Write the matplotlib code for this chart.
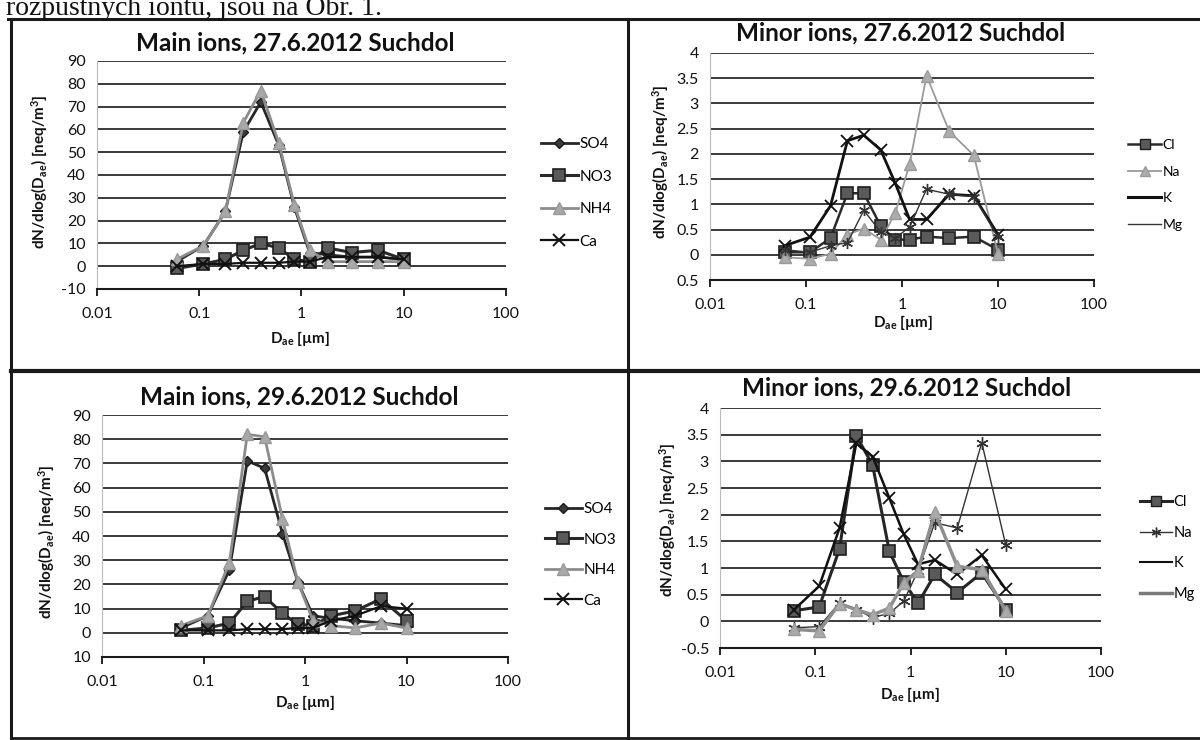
import numpy as np
import matplotlib
matplotlib.use("Agg")
import matplotlib.pyplot as plt
from matplotlib.lines import Line2D
from matplotlib.ticker import NullLocator

plt.rcParams['font.family'] = ['Lato', 'DejaVu Sans']
plt.rcParams['mathtext.fontset'] = 'custom'
plt.rcParams['mathtext.rm'] = 'Lato'
plt.rcParams['mathtext.bf'] = 'Lato:bold'
plt.rcParams['mathtext.it'] = 'Lato:italic'

# aerodynamic diameter of impactor stages [um]
d_ae = [0.06, 0.11, 0.18, 0.27, 0.4, 0.6, 0.85, 1.2, 1.8, 3.1, 5.6, 10.0]

# main ions, 27.6.2012
so4_27 = [2, 9, 24, 59, 72, 53, 26, 6, 5, 4, 4, 3]
no3_27 = [-1, 1, 3, 7, 10, 8, 3, 2, 8, 6, 7, 3]
nh4_27 = [3, 9, 24, 63, 77, 54, 27, 7, 2, 2, 2, 2]
ca_27 = [0, 1, 1, 1.5, 1.5, 1.5, 2, 2, 4, 4, 4, 3]

# minor ions, 27.6.2012
cl_27 = [0.05, 0.05, 0.33, 1.22, 1.22, 0.57, 0.3, 0.3, 0.36, 0.33, 0.36, 0.1]
na_27 = [-0.05, -0.08, 0.02, 0.4, 0.52, 0.3, 0.82, 1.8, 3.55, 2.45, 1.97, 0.02]
k_27 = [0.18, 0.35, 0.97, 2.26, 2.37, 2.08, 1.42, 0.7, 0.7, 1.2, 1.17, 0.4]
mg_27 = [0.1, 0.05, 0.18, 0.24, 0.88, 0.45, 0.33, 0.55, 1.3, 1.2, 1.15, 0.35]

# main ions, 29.6.2012
so4_29 = [2, 7, 26, 71, 68, 41, 21, 7, 6, 5, 4, 3]
no3_29 = [1, 2, 4, 13, 15, 8, 3.5, 3, 7, 9, 14, 5]
nh4_29 = [3, 7, 29, 82, 81, 47, 21, 5, 3, 2, 4, 2]
ca_29 = [1, 1, 1, 1.5, 1.5, 1.5, 2, 2, 5, 7, 11, 10]

# minor ions, 29.6.2012
cl_29 = [0.2, 0.27, 1.36, 3.48, 2.93, 1.31, 0.74, 0.34, 0.88, 0.54, 0.91, 0.22]
na_29 = [-0.12, -0.1, 0.35, 0.22, 0.07, 0.15, 0.38, 0.95, 1.85, 1.75, 3.35, 1.43]
k_29 = [0.22, 0.66, 1.75, 3.34, 3.09, 2.31, 1.63, 1.07, 1.15, 0.88, 1.24, 0.6]
mg_29 = [-0.15, -0.18, 0.33, 0.22, 0.12, 0.25, 0.72, 0.95, 2.05, 1.03, 0.97, 0.2]

main_labels = ['SO4', 'NO3', 'NH4', 'Ca']
minor_labels = ['Cl', 'Na', 'K', 'Mg']

x_ticks = [0.01, 0.1, 1, 10, 100]
x_ticklabels = ['0.01', '0.1', '1', '10', '100']
main_yticks = [-10, 0, 10, 20, 30, 40, 50, 60, 70, 80, 90]
main_ylabels_27 = ['-10', '0', '10', '20', '30', '40', '50', '60', '70', '80', '90']
main_ylabels_29 = ['10', '0', '10', '20', '30', '40', '50', '60', '70', '80', '90']
minor_yticks = [-0.5, 0, 0.5, 1, 1.5, 2, 2.5, 3, 3.5, 4]
minor_ylabels_27 = ['0.5', '0', '0.5', '1', '1.5', '2', '2.5', '3', '3.5', '4']
minor_ylabels_29 = ['-0.5', '0', '0.5', '1', '1.5', '2', '2.5', '3', '3.5', '4']

W, H = 1200., 740.
fig = plt.figure(figsize=(12, 7.4), dpi=100)


def fx(x):
    return x / W


def fy(y):
    return 1 - y / H


def frame_line(xs, ys, lw=2.2):
    fig.add_artist(Line2D([fx(v) for v in xs], [fy(v) for v in ys],
                          color='#1a1a1a', lw=lw, transform=fig.transFigure))


# scanned page: text line cut at the top and the table frame
fig.text(fx(6), fy(15), 'rozpustných iontů, jsou na Obr. 1.', family='Liberation Serif',
         fontsize=20, ha='left', va='baseline', color='#111')
frame_line([8, 1200], [19, 19])
frame_line([11, 11], [19, 740])
frame_line([628, 628], [19, 740])
frame_line([11, 1200], [371, 371], lw=3)
frame_line([11, 1200], [738, 738], lw=2)


def panel(box, title, title_xy, yticks, ylabels, ylabel_xy, xlabel_xy):
    x0, y0, x1, y1 = box
    ax = fig.add_axes([fx(x0), fy(y1), fx(x1 - x0), (y1 - y0) / H])
    ax.set_xscale('log')
    ax.set_xlim(0.01, 100)
    ax.set_ylim(yticks[0], yticks[-1])
    ax.set_xticks(x_ticks)
    ax.set_xticklabels(x_ticklabels)
    ax.xaxis.set_minor_locator(NullLocator())
    ax.set_yticks(yticks)
    ax.set_yticklabels(ylabels)
    ax.grid(axis='y', color='#2a2a2a', lw=1.3)
    ax.set_axisbelow(True)
    for s in ['top', 'right']:
        ax.spines[s].set_visible(False)
    ax.spines['left'].set_color('#bbbbbb')
    ax.spines['left'].set_linewidth(0.8)
    ax.spines['bottom'].set_color('#1a1a1a')
    ax.spines['bottom'].set_linewidth(1.5)
    ax.tick_params(axis='y', length=0, pad=8, labelsize=11.5, labelcolor='#111')
    ax.tick_params(axis='x', length=5, width=1.2, direction='out', pad=8,
                   labelsize=11.5, labelcolor='#111')
    ax.patch.set_alpha(0)
    fig.text(fx(title_xy[0]), fy(title_xy[1]), title, fontsize=17.5, fontweight='bold',
             ha='center', va='center', color='#111')
    fig.text(fx(ylabel_xy[0]), fy(ylabel_xy[1]),
             r'dN/dlog(D$_{\mathbf{ae}}$) [neq/m$^{\mathbf{3}}$]',
             rotation=90, fontsize=11, fontweight='bold', ha='center', va='center', color='#111')
    fig.text(fx(xlabel_xy[0]), fy(xlabel_xy[1]), r'D$_{\mathbf{ae}}$ [µm]',
             fontsize=11, fontweight='bold', ha='center', va='center', color='#111')
    return ax


def add_legend(ax, handles, labels, legend_xy, spacing, size=11, hl=2.4):
    ax.legend(handles, labels, loc='center left',
              bbox_to_anchor=(fx(legend_xy[0]), fy(legend_xy[1])),
              bbox_transform=fig.transFigure, frameon=False, fontsize=size,
              handlelength=hl, handletextpad=0.1, borderpad=0, borderaxespad=0,
              labelspacing=spacing)


def draw_main(ax, so4, no3, nh4, ca, legend_xy, spacing):
    h1, = ax.plot(d_ae, so4, color='#262626', lw=2, marker='D', ms=5,
                  mfc='#3a3a3a', mec='#1a1a1a')
    h2, = ax.plot(d_ae, no3, color='#2a2a2a', lw=2.2, marker='s', ms=9,
                  mfc='#5a5a5a', mec='#1e1e1e', mew=1.2)
    h3, = ax.plot(d_ae, nh4, color='#8c8c8c', lw=2, marker='^', ms=9,
                  mfc='#a8a8a8', mec='#999999')
    h4, = ax.plot(d_ae, ca, color='#111111', lw=1.6, marker='x', ms=8, mew=1.4)
    add_legend(ax, [h1, h2, h3, h4], main_labels, legend_xy, spacing)


# top left
ax1 = panel((97, 61, 506, 289), 'Main ions, 27.6.2012 Suchdol', (295, 43),
            main_yticks, main_ylabels_27, (40, 172), (300, 338))
draw_main(ax1, so4_27, no3_27, nh4_27, ca_27, (541, 193), 1.2)

# bottom left
ax3 = panel((102, 415, 508, 657), 'Main ions, 29.6.2012 Suchdol', (299, 397),
            main_yticks, main_ylabels_29, (47, 542), (305, 703))
draw_main(ax3, so4_29, no3_29, nh4_29, ca_29, (545, 555), 1.07)

# top right
ax2 = panel((710, 53, 1094, 280), 'Minor ions, 27.6.2012 Suchdol', (901, 33),
            minor_yticks, minor_ylabels_27, (661, 162), (903, 323))
ax2.plot(d_ae, cl_27, color='#2a2a2a', lw=1.8, marker='s', ms=9,
         mfc='#5a5a5a', mec='#1e1e1e', mew=1.2)
ax2.plot(d_ae, na_27, color='#9a9a9a', lw=1.3, marker='^', ms=9,
         mfc='#acacac', mec='#9a9a9a')
ax2.plot(d_ae, k_27, color='#111111', lw=2, marker='x', ms=8, mew=1.3)
ax2.plot(d_ae, mg_27, color='#333333', lw=1, marker=(6, 2, 0), ms=8, mew=1)
leg2 = [Line2D([], [], color='#2a2a2a', lw=1.8, marker='s', ms=7, mfc='#5a5a5a', mec='#1e1e1e'),
        Line2D([], [], color='#9a9a9a', lw=1.3, marker='^', ms=7, mfc='#acacac', mec='#9a9a9a'),
        Line2D([], [], color='#111111', lw=2.2),
        Line2D([], [], color='#333333', lw=1)]
add_legend(ax2, leg2, minor_labels, (1128, 185), 1.05, size=10)

# bottom right
ax4 = panel((720, 408, 1101, 648), 'Minor ions, 29.6.2012 Suchdol', (907, 388),
            minor_yticks, minor_ylabels_29, (668, 520), (910, 695))
ax4.plot(d_ae, cl_29, color='#262626', lw=2.2, marker='s', ms=9,
         mfc='#5a5a5a', mec='#1e1e1e', mew=1.2)
ax4.plot(d_ae, na_29, color='#333333', lw=1, marker=(6, 2, 0), ms=9, mew=1)
ax4.plot(d_ae, k_29, color='#111111', lw=1.8, marker='x', ms=8, mew=1.3)
ax4.plot(d_ae, mg_29, color='#8e8e8e', lw=2.5, marker='^', ms=8,
         mfc='#aaaaaa', mec='#9a9a9a')
leg4 = [Line2D([], [], color='#262626', lw=2.2, marker='s', ms=7, mfc='#5a5a5a', mec='#1e1e1e'),
        Line2D([], [], color='#333333', lw=1, marker=(6, 2, 0), ms=7),
        Line2D([], [], color='#111111', lw=1.5),
        Line2D([], [], color='#7a7a7a', lw=2.5)]
add_legend(ax4, leg4, minor_labels, (1140, 548), 1.15, size=10.5, hl=2.2)

fig.savefig('out.png', dpi=100)
